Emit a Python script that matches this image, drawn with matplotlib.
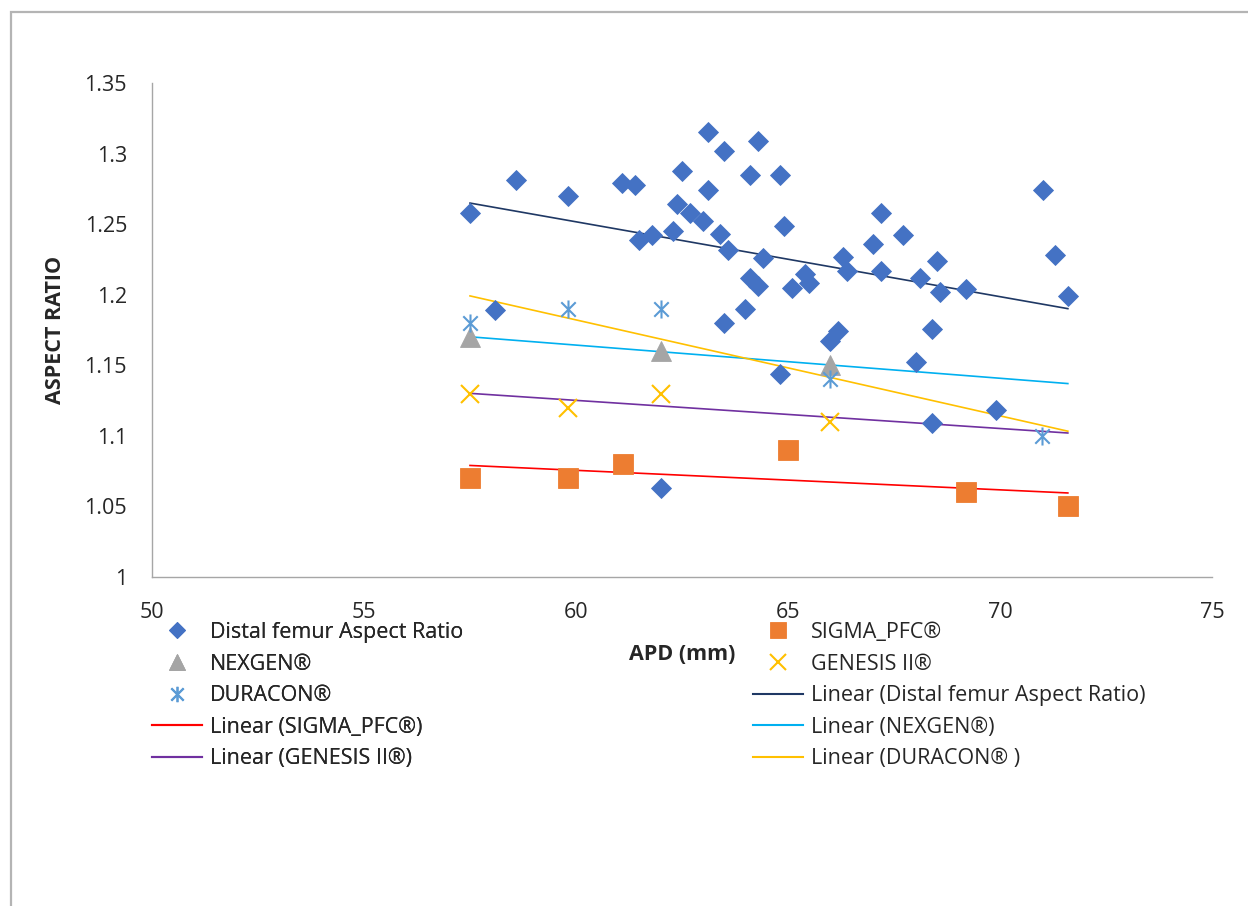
#!/usr/bin/env python3
# Aspect ratio vs APD: distal femur measurements and implant families, with linear trends.
import matplotlib
matplotlib.use('Agg')
import matplotlib.pyplot as plt
from matplotlib.lines import Line2D
from matplotlib.patches import Rectangle
from matplotlib.path import Path
import numpy as np

# ---- data ----
distal_apd = [57.5, 58.09, 58.58, 59.8, 61.08, 61.4, 61.49, 61.79, 62.0, 62.28,
              62.39, 62.5, 62.69, 63.0, 63.11, 63.11, 63.39, 63.49, 63.49, 63.59,
              63.99, 64.1, 64.3, 64.1, 64.29, 64.4, 64.8, 64.8, 64.91, 65.1,
              65.41, 65.5, 66.0, 66.18, 66.3, 66.4, 67.0, 67.2, 67.2, 67.71,
              68.01, 68.11, 68.4, 68.4, 68.51, 68.59, 69.2, 69.91, 71.01, 71.3,
              71.6]
distal_ratio = [1.258, 1.189, 1.281, 1.270, 1.279, 1.278, 1.239, 1.242, 1.063, 1.245,
                1.264, 1.288, 1.258, 1.252, 1.274, 1.315, 1.243, 1.302, 1.180, 1.232,
                1.190, 1.212, 1.206, 1.285, 1.309, 1.226, 1.144, 1.285, 1.249, 1.205,
                1.215, 1.208, 1.167, 1.174, 1.227, 1.217, 1.236, 1.258, 1.217, 1.242,
                1.152, 1.212, 1.176, 1.109, 1.224, 1.202, 1.204, 1.118, 1.274, 1.228,
                1.199]

sigma_apd = [57.5, 59.8, 61.1, 65.0, 69.2, 71.6]
sigma_ratio = [1.07, 1.07, 1.08, 1.09, 1.06, 1.05]

nexgen_apd = [57.5, 62.0, 66.0]
nexgen_ratio = [1.17, 1.16, 1.15]

genesis_apd = [57.5, 59.8, 62.0, 66.0]
genesis_ratio = [1.13, 1.12, 1.13, 1.11]

duracon_apd = [57.5, 59.8, 62.0, 66.0, 71.0]
duracon_ratio = [1.18, 1.19, 1.19, 1.14, 1.10]

x_ticks = [50, 55, 60, 65, 70, 75]
y_ticks = [1.0, 1.05, 1.1, 1.15, 1.2, 1.25, 1.3, 1.35]

FONT = 'Open Sans'
TEXT = '#262626'
FS = 15.5

# asterisk marker like Excel's: vertical bar plus an X
STAR = Path(
    [(0, -1), (0, 1), (-0.8, -0.8), (0.8, 0.8), (-0.8, 0.8), (0.8, -0.8)],
    [Path.MOVETO, Path.LINETO, Path.MOVETO, Path.LINETO, Path.MOVETO, Path.LINETO],
)

SERIES = [
    # label, x, y, marker, size, color, trend color, trend label
    ('Distal femur Aspect Ratio', distal_apd, distal_ratio, 'D', 10, '#4472C4',
     '#1F3864', 'Linear (Distal femur Aspect Ratio)'),
    ('SIGMA_PFC®', sigma_apd, sigma_ratio, 's', 14, '#ED7D31',
     '#FF0000', 'Linear (SIGMA_PFC®)'),
    ('NEXGEN®', nexgen_apd, nexgen_ratio, '^', 14, '#A5A5A5',
     '#00B0F0', 'Linear (NEXGEN®)'),
    ('GENESIS II®', genesis_apd, genesis_ratio, 'x', 13, '#FFC000',
     '#7030A0', 'Linear (GENESIS II®)'),
    ('DURACON®', duracon_apd, duracon_ratio, STAR, 13, '#5B9BD5',
     '#FFC000', 'Linear (DURACON® )'),
]


def main():
    plt.rcParams.update({
        'font.family': [FONT, 'DejaVu Sans'],
        'font.size': FS,
        'text.color': TEXT,
    })
    W, H = 1248, 906
    fig = plt.figure(figsize=(W / 100, H / 100), dpi=100)
    ax = fig.add_axes([152 / W, 1 - 577 / H, (1212 - 152) / W, (577 - 83) / H])

    # trend lines span the full APD range of the sheet
    all_x = np.concatenate([np.asarray(s[1]) for s in SERIES])
    x_fit = np.array([all_x.min(), all_x.max()])

    marker_handles, trend_handles = [], []
    for label, xs, ys, marker, ms, color, tcolor, tlabel in SERIES:
        line_marker = marker in ('x', STAR)
        ax.plot(xs, ys, linestyle='none', marker=marker, markersize=ms,
                color=color, markeredgecolor=color,
                markeredgewidth=1.5 if line_marker else 0.6, zorder=3)
        k, b = np.polyfit(xs, ys, 1)
        ax.plot(x_fit, k * x_fit + b, color=tcolor, lw=1.2, zorder=2)
        marker_handles.append(Line2D([], [], linestyle='none', marker=marker,
                                     markersize=ms * 0.85, color=color,
                                     markeredgecolor=color,
                                     markeredgewidth=1.5 if line_marker else 0.6,
                                     label=label))
        trend_handles.append(Line2D([], [], color=tcolor, lw=1.5, label=tlabel))

    ax.set_xlim(50, 75)
    ax.set_ylim(1.0, 1.35)
    ax.set_xticks(x_ticks)
    ax.set_yticks(y_ticks)
    ax.set_xticklabels([f'{v:g}' for v in x_ticks])
    ax.set_yticklabels([f'{v:g}' for v in y_ticks])
    ax.tick_params(length=0, labelsize=FS, colors=TEXT)
    ax.tick_params(axis='x', pad=18)
    ax.tick_params(axis='y', pad=18)
    for side in ('top', 'right'):
        ax.spines[side].set_visible(False)
    for side in ('left', 'bottom'):
        ax.spines[side].set_color('#A6A6A6')
        ax.spines[side].set_linewidth(1.0)

    fig.text(56 / W, 1 - 330 / H, 'ASPECT RATIO', rotation=90, ha='center',
             va='center', fontsize=FS, fontweight='bold')
    fig.text(682 / W, 1 - 655 / H, 'APD (mm)', ha='center', va='center',
             fontsize=FS, fontweight='bold')

    # Excel lays the legend out row by row in two columns
    entries = marker_handles + trend_handles
    left_col, right_col = entries[0::2], entries[1::2]
    common = dict(frameon=False, loc='upper left', borderpad=0, borderaxespad=0,
                  handlelength=2.3, handletextpad=0.4, labelspacing=0.49,
                  fontsize=FS)
    leg1 = fig.legend(handles=left_col, bbox_to_anchor=(152 / W, 1 - 622 / H),
                      **common)
    fig.add_artist(leg1)
    fig.legend(handles=right_col, bbox_to_anchor=(753 / W, 1 - 622 / H), **common)

    # chart-area border (runs off the right and bottom of the crop)
    fig.patches.append(Rectangle((11 / W, -0.1), 1.2, 1 - 12 / H + 0.1,
                                 transform=fig.transFigure, fill=False,
                                 edgecolor='#B4B4B4', lw=1.6, clip_on=False))

    fig.savefig('out.png', dpi=100)
    plt.close(fig)


if __name__ == '__main__':
    main()
